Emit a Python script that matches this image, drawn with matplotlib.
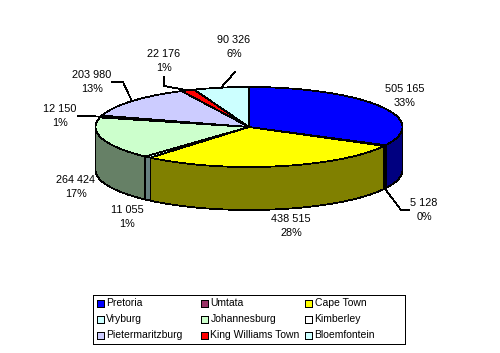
import numpy as np
import matplotlib
matplotlib.use("Agg")
import matplotlib.pyplot as plt
from matplotlib.patches import Polygon, Rectangle

plt.rcParams['font.family'] = ['Liberation Sans', 'DejaVu Sans']

cities = ['Pretoria', 'Umtata', 'Cape Town', 'Vryburg', 'Johannesburg', 'Kimberley',
          'Pietermaritzburg', 'King Williams Town', 'Bloemfontein']
values = [505165, 5128, 438515, 11055, 264424, 12150, 203980, 22176, 90326]
top_colors = ['#0000FF', '#993366', '#FFFF00', '#CCFFFF', '#CCFFCC', '#FFFFFF',
              '#CCCCFF', '#FF0000', '#CCFFFF']
side_colors = ['#000080', '#4D1A33', '#808000', '#668080', '#668066', '#808080',
               '#666680', '#800000', '#668080']

# pie geometry in pixels
cx, cy = 249, 127
rx, ry = 153.5, 40
depth = 43
LW = 0.72  # one pixel at 100 dpi
PIE_LW = 0.55  # radial lines close up otherwise

# label centres (first text line), in pixels
label_pos = [(405, 89), (424, 203), (291, 219), (127, 210), (76, 180),
             (60, 109), (92, 75), (164, 54), (234, 40)]
# elbow points of the leader lines, from label towards the pie
leaders = {1: [(409, 210), (401, 210)],
           5: [(78, 116)],
           6: [(112, 82), (123, 82)],
           7: [(164, 77), (164, 86)],
           8: [(235, 72)]}


def rim(theta, dy=0):
    return cx + rx * np.sin(theta), cy - ry * np.cos(theta) + dy


fig = plt.figure(figsize=(5, 3.53), dpi=100)
ax = fig.add_axes([0, 0, 1, 1])
ax.set_xlim(0, 500)
ax.set_ylim(353, 0)
ax.axis('off')

total = sum(values)
edges = np.concatenate([[0], np.cumsum(values)]) / total * 2 * np.pi

# side walls, only the front half of the pie is visible
for i in range(len(values)):
    a = max(edges[i], np.pi / 2)
    b = min(edges[i + 1], 3 * np.pi / 2)
    if b <= a:
        continue
    t = np.linspace(a, b, 60)
    x, y = rim(t)
    xs = np.concatenate([x, x[::-1]])
    ys = np.concatenate([y, y[::-1] + depth])
    ax.add_patch(Polygon(np.column_stack([xs, ys]), fc=side_colors[i], ec='black',
                         lw=PIE_LW, antialiased=False))

# top face
for i in range(len(values)):
    t = np.linspace(edges[i], edges[i + 1], 120)
    x, y = rim(t)
    pts = np.vstack([[cx, cy], np.column_stack([x, y])])
    ax.add_patch(Polygon(pts, fc=top_colors[i], ec='black', lw=PIE_LW, antialiased=False))

# value labels and leaders
for i, (lx, ly) in enumerate(label_pos):
    pct = round(values[i] / total * 100)
    num = f"{values[i]:,}".replace(',', ' ')
    ax.text(lx, ly, num, ha='center', va='center', fontsize=7.8, color='black')
    ax.text(lx, ly + 14, f"{pct}%", ha='center', va='center', fontsize=7.8, color='black')
    if i in leaders:
        mid = (edges[i] + edges[i + 1]) / 2
        end = rim(mid, depth if i == 1 else 0)
        pts = leaders[i] + [end]
        ax.plot([p[0] for p in pts], [p[1] for p in pts], color='black', lw=PIE_LW,
                antialiased=False)

# legend box
ax.add_patch(Rectangle((92.5, 294.5), 312.5, 49.5, fc='white', ec='black', lw=LW,
                       antialiased=False))
for i, name in enumerate(cities):
    col, row = i % 3, i // 3
    x0 = 96.5 + col * 104.3
    y0 = 303.5 + row * 16
    ax.add_patch(Rectangle((x0, y0 - 3.5), 7, 7, fc=top_colors[i], ec='black', lw=LW,
                           antialiased=False))
    ax.text(x0 + 9.5, y0, name, ha='left', va='center', fontsize=7.5, color='black')

fig.savefig('out.png', dpi=100, facecolor='white')
